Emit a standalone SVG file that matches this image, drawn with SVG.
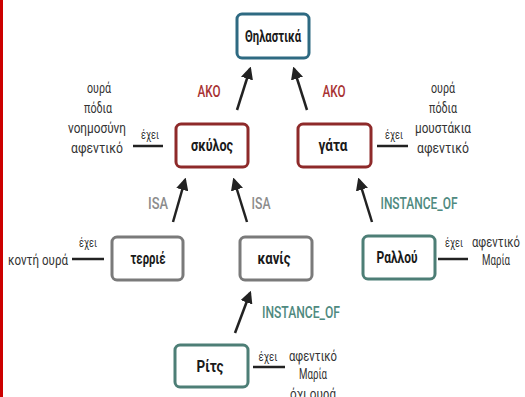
<svg xmlns="http://www.w3.org/2000/svg" width="525" height="397" viewBox="0 0 525 397">
  <style>
    text { font-family: "Roboto", "Liberation Sans", sans-serif; }
    .node rect { fill: #ffffff; stroke-width: 3; }
    .node text { font-size: 16px; font-weight: bold; fill: #1a1a1a; text-anchor: middle; }
    .cls rect { stroke: #2e6a82; }
    .ako rect { stroke: #8e2a2a; }
    .sub rect { stroke: #7a7a7a; }
    .inst rect { stroke: #4d7e76; }
    .arrow { stroke: #222; stroke-width: 2.5; fill: none; marker-end: url(#head); }
    .has { stroke: #222; stroke-width: 2.5; }
    .lbl { font-size: 17px; font-weight: 500; text-anchor: middle; }
    .lbl-ako { fill: #a83232; }
    .lbl-isa { fill: #8c8c8c; }
    .lbl-inst { fill: #4f8a80; }
    .small { font-size: 13px; fill: #333; text-anchor: middle; }
    .attr { font-size: 15px; fill: #333; text-anchor: middle; }
  </style>
  <defs>
    <marker id="head" viewBox="0 0 10 10" refX="8" refY="5" markerWidth="5" markerHeight="5" orient="auto" markerUnits="strokeWidth">
      <path d="M0,0 L10,5 L0,10 z" fill="#222"/>
    </marker>
  </defs>

  <rect width="525" height="397" fill="#ffffff"/>
  <rect x="0" y="0" width="3" height="397" fill="#cc0000"/>

  <!-- connectors and their labels -->
  <g id="connectors">
    <line class="arrow" x1="237" y1="110" x2="250" y2="69"/>
    <line class="arrow" x1="307" y1="110" x2="294" y2="69"/>
    <line class="arrow" x1="173" y1="222" x2="185" y2="180"/>
    <line class="arrow" x1="247" y1="222" x2="234" y2="180"/>
    <line class="arrow" x1="372" y1="222" x2="359" y2="180"/>
    <line class="arrow" x1="235" y1="333" x2="250" y2="293"/>
    <line class="has" x1="133" y1="146" x2="163" y2="146"/>
    <line class="has" x1="377" y1="146" x2="408" y2="146"/>
    <line class="has" x1="72" y1="259" x2="104" y2="259"/>
    <line class="has" x1="438" y1="259" x2="468" y2="259"/>
    <line class="has" x1="253" y1="367" x2="285" y2="367"/>
    <text class="lbl lbl-ako" x="209" y="97" textLength="23" lengthAdjust="spacingAndGlyphs">AKO</text>
    <text class="lbl lbl-ako" x="334" y="97" textLength="23" lengthAdjust="spacingAndGlyphs">AKO</text>
    <text class="lbl lbl-isa" x="158" y="209" textLength="20" lengthAdjust="spacingAndGlyphs">ISA</text>
    <text class="lbl lbl-isa" x="261" y="209" textLength="19" lengthAdjust="spacingAndGlyphs">ISA</text>
    <text class="lbl lbl-inst" x="419" y="209" textLength="77" lengthAdjust="spacingAndGlyphs">INSTANCE_OF</text>
    <text class="lbl lbl-inst" x="301" y="318" textLength="78" lengthAdjust="spacingAndGlyphs">INSTANCE_OF</text>
    <text class="small" x="150" y="139" textLength="18" lengthAdjust="spacingAndGlyphs">έχει</text>
    <text class="small" x="394" y="139" textLength="18" lengthAdjust="spacingAndGlyphs">έχει</text>
    <text class="small" x="88" y="247" textLength="18" lengthAdjust="spacingAndGlyphs">έχει</text>
    <text class="small" x="454" y="247" textLength="18" lengthAdjust="spacingAndGlyphs">έχει</text>
    <text class="small" x="268" y="361" textLength="19" lengthAdjust="spacingAndGlyphs">έχει</text>
  </g>

  <!-- nodes -->
  <g id="thilastika" class="node cls">
    <rect x="237" y="14" width="72" height="44" rx="5"/>
    <text x="273" y="42" textLength="56" lengthAdjust="spacingAndGlyphs">Θηλαστικά</text>
  </g>
  <g id="skylos" class="node ako">
    <rect x="176" y="124" width="72" height="43" rx="5"/>
    <text x="212" y="151" textLength="42" lengthAdjust="spacingAndGlyphs">σκύλος</text>
  </g>
  <g id="gata" class="node ako">
    <rect x="298" y="124" width="73" height="43" rx="5"/>
    <text x="333" y="151" textLength="29" lengthAdjust="spacingAndGlyphs">γάτα</text>
  </g>
  <g id="terrie" class="node sub">
    <rect x="112" y="237" width="71" height="43" rx="5"/>
    <text x="148" y="264" textLength="35" lengthAdjust="spacingAndGlyphs">τερριέ</text>
  </g>
  <g id="kanis" class="node sub">
    <rect x="240" y="237" width="72" height="43" rx="5"/>
    <text x="274" y="264" textLength="33" lengthAdjust="spacingAndGlyphs">κανίς</text>
  </g>
  <g id="rallou" class="node inst">
    <rect x="363" y="236" width="72" height="43" rx="5"/>
    <text x="397" y="263" textLength="41" lengthAdjust="spacingAndGlyphs">Ραλλού</text>
  </g>
  <g id="rits" class="node inst">
    <rect x="175" y="345" width="73" height="42" rx="5"/>
    <text x="210" y="372" textLength="27" lengthAdjust="spacingAndGlyphs">Ρίτς</text>
  </g>

  <!-- attribute lists -->
  <g id="attrs-skylos">
    <text class="attr" x="99" y="93" textLength="24" lengthAdjust="spacingAndGlyphs">ουρά</text>
    <text class="attr" x="98" y="113" textLength="28" lengthAdjust="spacingAndGlyphs">πόδια</text>
    <text class="attr" x="97" y="133" textLength="58" lengthAdjust="spacingAndGlyphs">νοημοσύνη</text>
    <text class="attr" x="97" y="153" textLength="52" lengthAdjust="spacingAndGlyphs">αφεντικό</text>
  </g>
  <g id="attrs-gata">
    <text class="attr" x="443" y="93" textLength="24" lengthAdjust="spacingAndGlyphs">ουρά</text>
    <text class="attr" x="443" y="113" textLength="28" lengthAdjust="spacingAndGlyphs">πόδια</text>
    <text class="attr" x="443" y="133" textLength="56" lengthAdjust="spacingAndGlyphs">μουστάκια</text>
    <text class="attr" x="443" y="153" textLength="52" lengthAdjust="spacingAndGlyphs">αφεντικό</text>
  </g>
  <g id="attrs-terrie">
    <text class="attr" x="38" y="265" textLength="60" lengthAdjust="spacingAndGlyphs">κοντή ουρά</text>
  </g>
  <g id="attrs-rallou">
    <text class="attr" x="496" y="247" textLength="48" lengthAdjust="spacingAndGlyphs">αφεντικό</text>
    <text class="attr" x="496" y="265" textLength="28" lengthAdjust="spacingAndGlyphs">Μαρία</text>
  </g>
  <g id="attrs-rits">
    <text class="attr" x="313" y="361" textLength="48" lengthAdjust="spacingAndGlyphs">αφεντικό</text>
    <text class="attr" x="313" y="379" textLength="28" lengthAdjust="spacingAndGlyphs">Μαρία</text>
    <text class="attr" x="313" y="399" textLength="46" lengthAdjust="spacingAndGlyphs">όχι ουρά</text>
  </g>
</svg>
